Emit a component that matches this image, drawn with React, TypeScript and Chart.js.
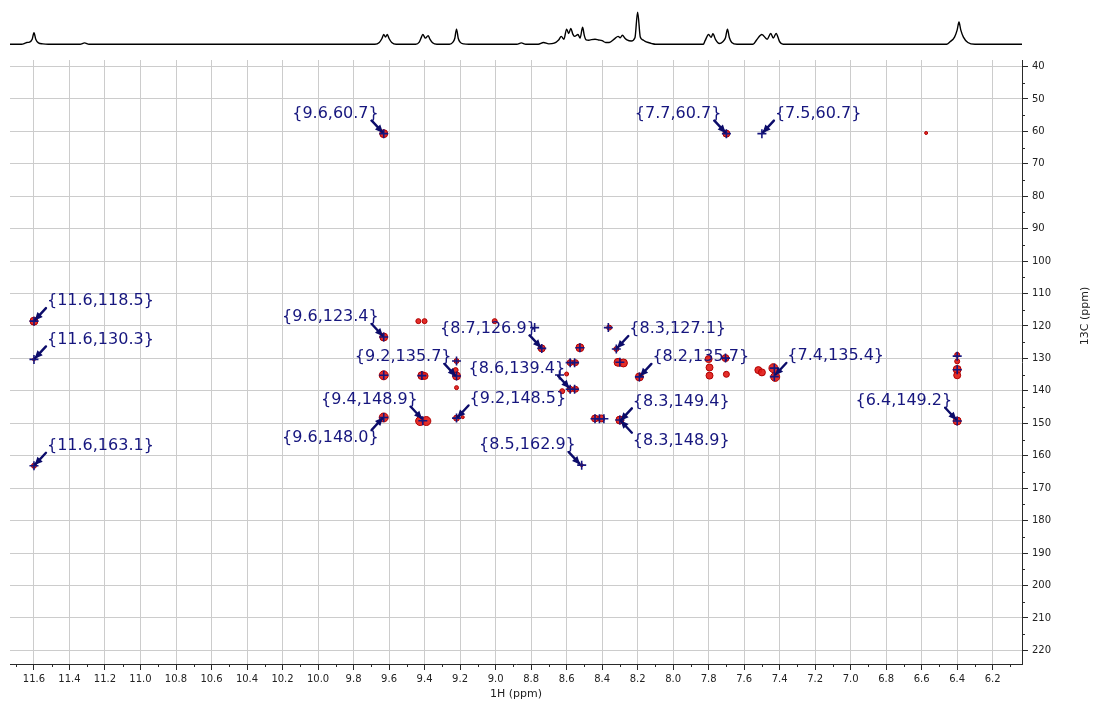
import React, { useEffect, useRef } from 'react';
import { Chart, registerables } from 'chart.js';

Chart.register(...registerables);

// ---------- axis ranges ----------
const X_MIN = 6.035;
const X_MAX = 11.735;
const Y_MIN = 38.0;
const Y_MAX = 224.2;

const X_TITLE = '1H (ppm)';
const Y_TITLE = '13C (ppm)';

// ---------- 1D proton projection (ppm, intensity) ----------
const specPpm = [
  11.735, 11.67, 11.65, 11.64, 11.625, 11.61, 11.6, 11.59, 11.575, 11.55, 11.52,
  11.34, 11.315, 11.29,
  9.68, 9.655, 9.64, 9.63, 9.62, 9.61, 9.6, 9.585, 9.56,
  9.45, 9.43, 9.42, 9.41, 9.395, 9.38, 9.37, 9.355, 9.33,
  9.26, 9.24, 9.23, 9.22, 9.21, 9.2, 9.18, 9.15,
  8.88, 8.855, 8.83,
  8.76, 8.73, 8.7, 8.67, 8.645, 8.63, 8.615, 8.6, 8.588, 8.576, 8.565, 8.555, 8.536,
  8.524, 8.51, 8.5, 8.49, 8.475, 8.46, 8.44, 8.42, 8.4, 8.38, 8.36, 8.33, 8.31, 8.298,
  8.286, 8.27, 8.26, 8.236, 8.215, 8.2, 8.185, 8.17, 8.16, 8.14, 8.12, 8.1,
  7.83, 7.82, 7.8, 7.786, 7.776, 7.76, 7.74, 7.72, 7.705, 7.694, 7.683, 7.67, 7.64,
  7.55, 7.53, 7.5, 7.47, 7.45, 7.436, 7.42, 7.4, 7.38,
  6.46, 6.44, 6.415, 6.4, 6.39, 6.38, 6.365, 6.34, 6.3, 6.035,
];
const specInt = [
  0, 0, 3, 5, 6, 14, 32, 14, 4, 1, 0,
  0, 4, 0,
  0, 5, 16, 27, 20, 27, 16, 5, 0,
  0, 6, 17, 27, 17, 24, 14, 4, 0,
  0, 6, 16, 42, 16, 6, 1, 0,
  0, 4, 0,
  0, 5, 1, 3, 12, 22, 14, 42, 30, 44, 28, 22, 27,
  17, 47, 24, 12, 11, 13, 14, 12, 10, 5, 5, 15, 22, 18,
  25, 16, 12, 9, 18, 89, 20, 12, 9, 5, 2, 0,
  0, 10, 27, 19, 29, 12, 2, 7, 18, 42, 18, 5, 0,
  0, 12, 27, 14, 30, 17, 30, 7, 0,
  0, 7, 20, 40, 62, 40, 20, 5, 0, 0,
];

// ---------- 2D cross peaks (red contours) ----------
const blobH = [
  9.63, 7.7, 6.575,
  11.6, 11.6, 11.6,
  9.63, 9.435, 9.4, 9.005,
  8.74, 8.36, 8.525, 8.32, 8.31, 8.28, 8.19,
  8.58, 8.55, 8.6, 8.58, 8.55, 8.625,
  8.44, 8.405, 8.3, 8.515,
  9.22, 9.22, 9.225, 9.22,
  9.63, 9.415, 9.4,
  9.63, 9.425, 9.39, 9.22, 9.185,
  7.8, 7.795, 7.795, 7.705, 7.7,
  7.52, 7.5, 7.435, 7.425,
  6.4, 6.4, 6.4, 6.4, 6.4,
];
const blobC = [
  60.7, 60.7, 60.5,
  118.5, 130.3, 163.1,
  123.4, 118.5, 118.5, 118.5,
  126.9, 120.5, 126.7, 127.1, 131.2, 131.4, 135.7,
  131.3, 131.3, 134.8, 139.5, 139.5, 140.1,
  148.5, 148.5, 149.0, 162.9,
  130.8, 135.4, 133.6, 139.0,
  135.2, 135.3, 135.4,
  148.2, 149.3, 149.3, 148.4, 148.1,
  130.2, 132.8, 135.3, 129.9, 134.9,
  133.6, 134.3, 133.0, 135.7,
  128.9, 130.9, 133.4, 135.2, 149.3,
];
const blobSize = [
  4, 3.5, 1.5,
  4, 1.5, 2.5,
  4, 2.5, 2.5, 2.5,
  3.5, 2.5, 4, 2.5, 4, 4, 4,
  3, 3, 2, 3, 3, 2.5,
  3.5, 3.5, 4, 1.5,
  2.5, 4, 2.5, 2,
  4.5, 4, 3.5,
  4.5, 4.5, 4.5, 3, 1.5,
  3.5, 3.5, 3.5, 3.5, 3,
  3.5, 3.5, 4.5, 4.5,
  2.5, 2.5, 4, 3.5, 4,
];

// ---------- picked peak markers (+) ----------
const crossH = [
  9.63, 7.7, 7.5,
  11.6, 11.6, 11.6,
  9.63, 8.78, 8.74, 8.365, 8.525, 8.32, 8.3, 8.19,
  8.58, 8.555, 8.64, 8.58, 8.555,
  8.44, 8.415, 8.39, 8.3, 8.515,
  9.22, 9.22, 9.63, 9.415, 9.63, 9.41, 9.22,
  7.705, 7.43, 7.43,
  6.4, 6.4, 6.4,
];
const crossC = [
  60.7, 60.7, 60.7,
  118.5, 130.3, 163.1,
  123.4, 120.5, 126.9, 120.5, 126.7, 127.1, 131.2, 135.7,
  131.3, 131.3, 135.1, 139.5, 139.5,
  148.6, 148.6, 148.6, 149.0, 162.9,
  130.8, 135.4, 135.2, 135.3, 148.2, 149.2, 148.4,
  129.9, 133.0, 135.6,
  129.3, 133.5, 149.3,
];

// ---------- peak labels ----------
const labelH = [
  9.63, 7.7, 7.5,
  11.6, 11.6, 11.6,
  9.63, 8.74, 8.32, 9.22, 8.58, 8.19, 7.43,
  9.41, 9.63, 9.22, 8.3, 8.3, 8.52, 6.4,
];
const labelC = [
  60.7, 60.7, 60.7,
  118.5, 130.3, 163.1,
  123.4, 126.9, 127.1, 135.7, 139.4, 135.7, 135.4,
  148.9, 148.0, 148.5, 149.4, 148.9, 162.9, 149.2,
];
// label placement: side (-1 left of peak, +1 right) and vertical (-1 above, +1 below)
const labelSide = [-1, -1, 1, 1, 1, 1, -1, -1, 1, -1, -1, 1, 1, -1, -1, 1, 1, 1, -1, -1];
const labelVert = [-1, -1, -1, -1, -1, -1, -1, -1, -1, -1, -1, -1, -1, -1, 1, -1, -1, 1, -1, -1];

// ---------- styles ----------
const AXIS = '#2a2a2a';
const GRID = '#cccccc';
const NAVY = '#16167e';
const ARROW = '#0c0c6a';
const TICK_FONT = '"DejaVu Sans", Verdana, sans-serif';

const overlayPlugin = {
  id: 'overlay',
  afterDatasetsDraw(chart: any) {
    const { ctx, scales } = chart;
    const xs = scales.x;
    const ys = scales.y;
    ctx.save();
    ctx.font = '16px "DejaVu Sans", Verdana, sans-serif';
    ctx.textBaseline = 'middle';
    for (let i = 0; i < labelH.length; i++) {
      const px = xs.getPixelForValue(labelH[i]);
      const py = ys.getPixelForValue(labelC[i]);
      const side = labelSide[i];
      const vert = labelVert[i];
      const text = `{${labelH[i].toFixed(1)},${labelC[i].toFixed(1)}}`;
      ctx.fillStyle = NAVY;
      if (side < 0) {
        ctx.textAlign = 'right';
        ctx.fillText(text, px - 5, py + (vert < 0 ? -20 : 21));
      } else {
        ctx.textAlign = 'left';
        ctx.fillText(text, px + 13, py + (vert < 0 ? -20 : 21));
      }
      // arrow
      const tx = px + side * 12;
      const ty = py + vert * 13;
      const ang = Math.atan2(py - ty, px - tx);
      ctx.strokeStyle = ARROW;
      ctx.fillStyle = ARROW;
      ctx.lineWidth = 2.4;
      ctx.lineCap = 'round';
      ctx.beginPath();
      ctx.moveTo(tx, ty);
      ctx.lineTo(px - Math.cos(ang) * 2, py - Math.sin(ang) * 2);
      ctx.stroke();
      const hx = px - Math.cos(ang) * 1;
      const hy = py - Math.sin(ang) * 1;
      const L = 8;
      const W = 3.6;
      const bx = hx - Math.cos(ang) * L;
      const by = hy - Math.sin(ang) * L;
      ctx.beginPath();
      ctx.moveTo(hx, hy);
      ctx.lineTo(bx + Math.sin(ang) * W, by - Math.cos(ang) * W);
      ctx.lineTo(bx - Math.sin(ang) * W, by + Math.cos(ang) * W);
      ctx.closePath();
      ctx.fill();
    }
    ctx.restore();
  },
  afterDraw(chart: any) {
    const { ctx, chartArea, scales } = chart;
    const xs = scales.x;
    const ys = scales.y;
    ctx.save();
    ctx.strokeStyle = AXIS;
    ctx.lineWidth = 1;
    for (let k = Math.ceil(X_MIN * 10); k <= Math.floor(X_MAX * 10); k++) {
      if (k % 2 === 0) continue;
      const px = Math.round(xs.getPixelForValue(k / 10)) + 0.5;
      ctx.beginPath();
      ctx.moveTo(px, chartArea.bottom);
      ctx.lineTo(px, chartArea.bottom + 3);
      ctx.stroke();
    }
    for (let k = Math.ceil(Y_MIN / 5); k <= Math.floor(Y_MAX / 5); k++) {
      if (k % 2 === 0) continue;
      const py = Math.round(ys.getPixelForValue(k * 5)) + 0.5;
      ctx.beginPath();
      ctx.moveTo(chartArea.right, py);
      ctx.lineTo(chartArea.right + 3, py);
      ctx.stroke();
    }
    // axis titles
    ctx.fillStyle = '#222';
    ctx.font = '11px "DejaVu Sans", Verdana, sans-serif';
    ctx.textAlign = 'center';
    ctx.textBaseline = 'middle';
    ctx.fillText(X_TITLE, (chartArea.left + chartArea.right) / 2, 694);
    ctx.translate(1085, 316);
    ctx.rotate(-Math.PI / 2);
    ctx.fillText(Y_TITLE, 0, 0);
    ctx.restore();
  },
};

export default function App() {
  const mainRef = useRef<HTMLCanvasElement | null>(null);
  const specRef = useRef<HTMLCanvasElement | null>(null);

  useEffect(() => {
    if (!mainRef.current || !specRef.current) return;

    const spec = new Chart(specRef.current, {
      type: 'line',
      data: {
        datasets: [
          {
            data: specPpm.map((p, i) => ({ x: p, y: specInt[i] })),
            borderColor: '#000',
            borderWidth: 1.4,
            pointRadius: 0,
            cubicInterpolationMode: 'monotone',
            fill: false,
          },
        ],
      },
      options: {
        animation: false,
        responsive: false,
        devicePixelRatio: 1,
        layout: { padding: { left: 10, right: 73, top: 10, bottom: 10 } },
        plugins: { legend: { display: false }, tooltip: { enabled: false } },
        scales: {
          x: { type: 'linear', display: false, min: X_MIN, max: X_MAX, reverse: true },
          y: { type: 'linear', display: false, min: -2, max: 95 },
        },
      },
    } as any);

    const main = new Chart(mainRef.current, {
      type: 'scatter',
      data: {
        datasets: [
          {
            data: crossH.map((h, i) => ({ x: h, y: crossC[i] })),
            pointStyle: 'cross',
            pointRadius: 4.5,
            pointBorderColor: NAVY,
            pointBorderWidth: 1.6,
            order: 0,
          },
          {
            data: blobH.map((h, i) => ({ x: h, y: blobC[i] })),
            pointStyle: 'circle',
            pointRadius: blobSize,
            pointBackgroundColor: 'rgba(226, 28, 24, 0.92)',
            pointBorderColor: '#b00000',
            pointBorderWidth: 1,
            order: 1,
          },
        ],
      },
      options: {
        animation: false,
        responsive: false,
        devicePixelRatio: 1,
        layout: { padding: { left: 10, top: 60, right: 0, bottom: 0 } },
        plugins: { legend: { display: false }, tooltip: { enabled: false } },
        scales: {
          x: {
            type: 'linear',
            position: 'bottom',
            min: X_MIN,
            max: X_MAX,
            reverse: true,
            afterFit: (s: any) => {
              s.height = 41;
            },
            ticks: {
              stepSize: 0.2,
              includeBounds: false,
              autoSkip: false,
              maxRotation: 0,
              padding: 3,
              color: '#222',
              font: { family: TICK_FONT, size: 10 },
              callback: (v: any) => Number(v).toFixed(1),
            },
            grid: { color: GRID, lineWidth: 1, tickLength: 6, tickColor: AXIS },
            border: { display: true, color: AXIS, width: 1 },
          },
          y: {
            type: 'linear',
            position: 'right',
            min: Y_MIN,
            max: Y_MAX,
            reverse: true,
            afterFit: (s: any) => {
              s.width = 73;
            },
            ticks: {
              stepSize: 10,
              includeBounds: false,
              autoSkip: false,
              padding: 4,
              color: '#222',
              font: { family: TICK_FONT, size: 10 },
              callback: (v: any) => String(Math.round(Number(v))),
            },
            grid: { color: GRID, lineWidth: 1, tickLength: 6, tickColor: AXIS },
            border: { display: true, color: AXIS, width: 1 },
          },
        },
      },
      plugins: [overlayPlugin],
    } as any);

    return () => {
      spec.destroy();
      main.destroy();
    };
  }, []);

  return (
    <div style={{ position: 'absolute', left: 0, top: 0, width: 1095, height: 705, background: '#fff' }}>
      <canvas
        ref={mainRef}
        width={1095}
        height={705}
        style={{ position: 'absolute', left: 0, top: 0, width: 1095, height: 705 }}
      />
      <canvas
        ref={specRef}
        width={1095}
        height={55}
        style={{ position: 'absolute', left: 0, top: 0, width: 1095, height: 55 }}
      />
    </div>
  );
}
